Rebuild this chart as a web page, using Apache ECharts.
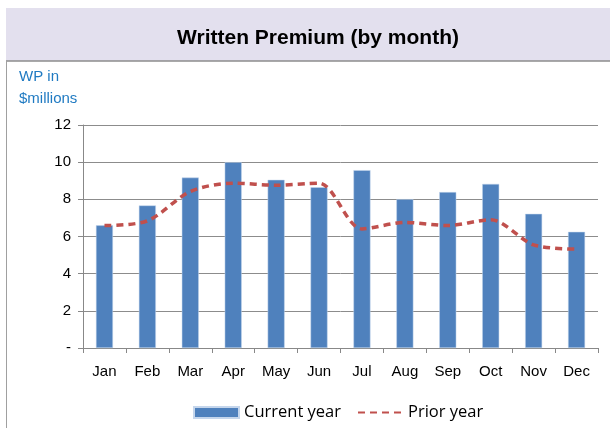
<!DOCTYPE html>
<html>
<head>
<meta charset="utf-8">
<script src="https://cdn.jsdelivr.net/npm/echarts@6/dist/echarts.min.js"></script>
<style>
  html, body { margin: 0; padding: 0; background: #fff; }
  #main { width: 610px; height: 428px; }
</style>
</head>
<body>
<div id="main"></div>
<script>
// 月份和数据
var months = ['Jan', 'Feb', 'Mar', 'Apr', 'May', 'Jun', 'Jul', 'Aug', 'Sep', 'Oct', 'Nov', 'Dec'];
var currentYear = [6.6, 7.67, 9.17, 10.0, 9.05, 8.65, 9.57, 8.01, 8.39, 8.83, 7.22, 6.25];
var priorYear = [6.59, 6.84, 8.42, 8.87, 8.76, 8.87, 6.41, 6.76, 6.59, 6.9, 5.55, 5.32];

var myChart = echarts.init(document.getElementById('main'));

var option = {
    animation: false,
    backgroundColor: '#fff',
    title: {
        text: 'Written Premium (by month)',
        left: 313,
        textAlign: 'center',
        top: 23,
        textStyle: {
            fontFamily: 'Liberation Sans',
            fontSize: 21,
            fontWeight: 'bold',
            color: '#000'
        }
    },
    graphic: [
        {
            type: 'rect',
            z: -10,
            shape: {x: 6, y: 8, width: 604, height: 53},
            style: {fill: '#e3e0ee'}
        },
        {
            type: 'line',
            shape: {x1: 6, y1: 61, x2: 610, y2: 61},
            style: {stroke: '#8c8c8c', lineWidth: 1.5}
        },
        {
            type: 'line',
            shape: {x1: 6.5, y1: 61, x2: 6.5, y2: 428},
            style: {stroke: '#a0a0a0', lineWidth: 1}
        },
        {
            type: 'text',
            left: 19,
            top: 66,
            style: {
                text: 'WP in\n$millions',
                fill: '#1f7ac2',
                font: '15px "Liberation Sans"',
                lineHeight: 22
            }
        }
    ],
    legend: {
        bottom: 2,
        left: 188,
        itemGap: 16,
        itemWidth: 45,
        itemHeight: 11,
        textStyle: {
            fontFamily: 'Open Sans',
            fontSize: 16.5,
            color: '#000'
        },
        data: [
            {name: 'Current year', icon: 'rect'},
            {name: 'Prior year', itemStyle: {opacity: 0, borderWidth: 0}}
        ]
    },
    grid: {
        left: 83,
        right: 12,
        top: 125,
        bottom: 80
    },
    xAxis: {
        type: 'category',
        data: months,
        axisLine: {lineStyle: {color: '#888', width: 1}},
        axisTick: {show: true, inside: false, length: 5, lineStyle: {color: '#888'}},
        axisLabel: {
            margin: 16,
            fontFamily: 'Liberation Sans',
            fontSize: 15,
            color: '#000'
        }
    },
    yAxis: {
        type: 'value',
        min: 0,
        max: 12,
        interval: 2,
        axisLine: {show: true, lineStyle: {color: '#888'}},
        axisTick: {show: true, length: 5, lineStyle: {color: '#888'}},
        splitLine: {lineStyle: {color: '#8c8c8c', width: 1}},
        axisLabel: {
            margin: 12,
            fontFamily: 'Liberation Sans',
            fontSize: 15,
            color: '#000',
            formatter: function (v) {
                return v === 0 ? '-' : v;
            }
        }
    },
    series: [
        {
            name: 'Current year',
            type: 'bar',
            data: currentYear,
            barWidth: 17,
            itemStyle: {color: '#4f81bd', borderColor: '#c5d6ec', borderWidth: 0.5}
        },
        {
            name: 'Prior year',
            type: 'line',
            data: priorYear,
            smooth: 0.3,
            symbol: 'none',
            lineStyle: {color: '#c0504d', width: 3.5, type: [7, 5]},
            itemStyle: {color: '#c0504d'}
        }
    ]
};

myChart.setOption(option);
</script>
</body>
</html>
